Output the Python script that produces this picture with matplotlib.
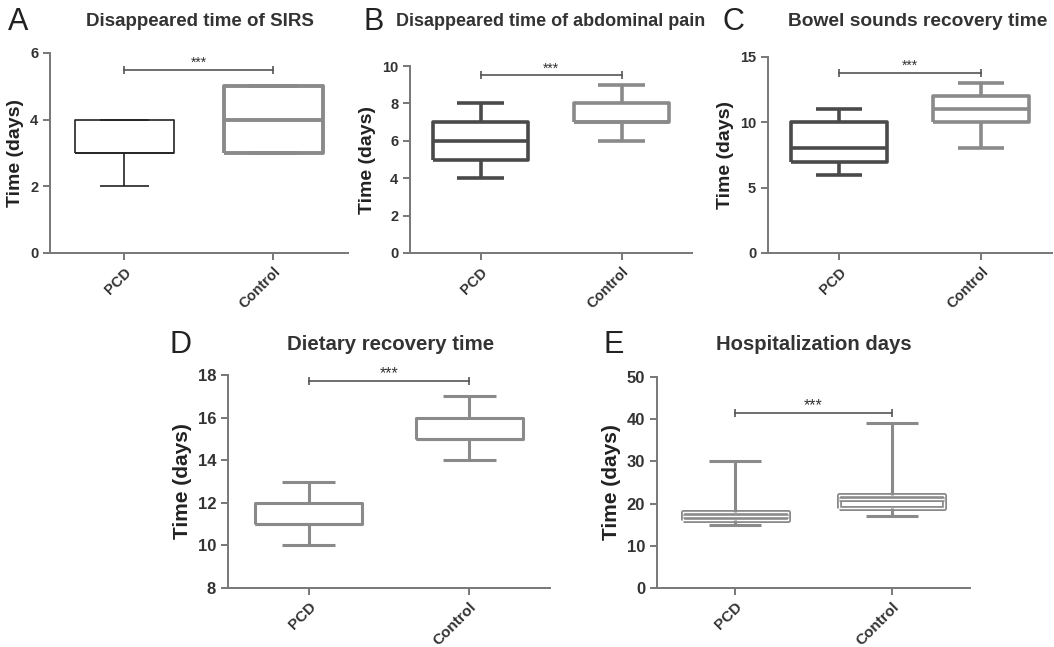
import matplotlib.pyplot as plt
import matplotlib.patheffects as pe

plt.rcParams['font.family'] = ['Liberation Sans', 'DejaVu Sans']

groups = ['PCD', 'Control']

# box stats per panel: [whislo, q1, med, q3, whishi] for PCD and Control
sirs_pcd = [2, 3, 3, 4, 4]
sirs_ctrl = [3, 3, 4, 5, 5]
pain_pcd = [4, 5, 6, 7, 8]
pain_ctrl = [6, 7, 7, 8, 9]
bowel_pcd = [6, 7, 8, 10, 11]
bowel_ctrl = [8, 10, 11, 12, 13]
diet_pcd = [10, 11, 11, 12, 13]
diet_ctrl = [14, 15, 15, 16, 17]
hosp_pcd = [15, 16, 17, 18, 30]
hosp_ctrl = [17, 19, 21, 22, 39]

sig_y = [5.5, 9.5, 13.8, 17.7, 41.5]

W, H = 1054, 647
fig = plt.figure(figsize=(W / 100, H / 100), dpi=100)


def add_ax(left, right, top, bottom):
    return fig.add_axes([left / W, 1 - bottom / H, (right - left) / W, (bottom - top) / H])


def stats(v):
    return dict(whislo=v[0], q1=v[1], med=v[2], q3=v[3], whishi=v[4], fliers=[])


def panel(ax, letter, title, pcd, ctrl, ylim, yticks, sig, colors, lws,
          tick_fs, xtick_fs, title_fs, label_fs, letter_xy, title_x, effects=False):
    for i, (v, c, lw) in enumerate(zip([pcd, ctrl], colors, lws)):
        props = dict(color=c, linewidth=lw, solid_capstyle='butt')
        art = ax.bxp([stats(v)], positions=[i + 1], widths=0.67, capwidths=0.33,
                     showfliers=False, patch_artist=False,
                     boxprops=props, whiskerprops=props, capprops=props,
                     medianprops=props)
        if effects:
            # double-stroke outline on box and median
            for key in ['boxes', 'medians']:
                for ln in art[key]:
                    ln.set_color('white')
                    ln.set_linewidth(1.0)
                    ln.set_path_effects([pe.Stroke(linewidth=3.6, foreground=c), pe.Normal()])
    ax.plot([1, 2], [sig, sig], color='#555555', lw=1.2, marker='|', markersize=6, mew=1.2)
    ax.text(1.5, sig, '***', ha='center', va='bottom', fontsize=tick_fs - 0.5, color='#333333')
    ax.set_xlim(0.5, 2.5)
    ax.set_ylim(*ylim)
    ax.set_yticks(yticks)
    ax.set_xticks([1, 2])
    ax.set_xticklabels(groups, rotation=45, ha='right', rotation_mode='anchor')
    for sp in ['top', 'right']:
        ax.spines[sp].set_visible(False)
    for sp in ['left', 'bottom']:
        ax.spines[sp].set_color('#777777')
        ax.spines[sp].set_linewidth(1.4)
    ax.tick_params(colors='#777777', width=1.4, length=5, labelcolor='#333333',
                   labelsize=tick_fs)
    ax.tick_params(axis='x', labelsize=xtick_fs)
    for lab in ax.get_xticklabels() + ax.get_yticklabels():
        lab.set_fontweight('bold')
    ax.set_ylabel('Time (days)', fontsize=label_fs, fontweight='bold', color='#222222')
    fig.text(letter_xy[0] / W, 1 - letter_xy[1] / H, letter, fontsize=22, color='#222222',
             va='center', ha='left')
    fig.text(title_x / W, 1 - letter_xy[1] / H, title, fontsize=title_fs, fontweight='bold',
             color='#333333', va='center', ha='center')


axA = add_ax(50, 348, 53, 253)
panel(axA, 'A', 'Disappeared time of SIRS', sirs_pcd, sirs_ctrl, (0, 6), [0, 2, 4, 6],
      sig_y[0], ['#222222', '#8a8a8a'], [1.2, 2.8], 10.5, 10.5, 13.5, 14, (8, 22), 200)

axB = add_ax(410, 692, 66, 253)
panel(axB, 'B', 'Disappeared time of abdominal pain', pain_pcd, pain_ctrl, (0, 10),
      [0, 2, 4, 6, 8, 10], sig_y[1], ['#4a4a4a', '#8a8a8a'], [2.6, 2.6], 10.5, 10.5, 13, 14,
      (364, 22), 551)

axC = add_ax(768, 1052, 57, 253)
panel(axC, 'C', 'Bowel sounds recovery time', bowel_pcd, bowel_ctrl, (0, 15),
      [0, 5, 10, 15], sig_y[2], ['#4a4a4a', '#8a8a8a'], [2.6, 2.6], 10.5, 10.5, 13.8, 14,
      (723, 22), 918)

axD = add_ax(228, 550, 375, 588)
panel(axD, 'D', 'Dietary recovery time', diet_pcd, diet_ctrl, (8, 18),
      [8, 10, 12, 14, 16, 18], sig_y[3], ['#8a8a8a', '#8a8a8a'], [2.2, 2.2], 12, 11, 14.7, 15,
      (170, 345), 391)

axE = add_ax(657, 970, 377, 588)
panel(axE, 'E', 'Hospitalization days', hosp_pcd, hosp_ctrl, (0, 50),
      [0, 10, 20, 30, 40, 50], sig_y[4], ['#8a8a8a', '#8a8a8a'], [2.2, 2.2], 12, 11, 14.6, 15,
      (603, 345), 814, effects=True)

fig.savefig('out.png', dpi=100)
